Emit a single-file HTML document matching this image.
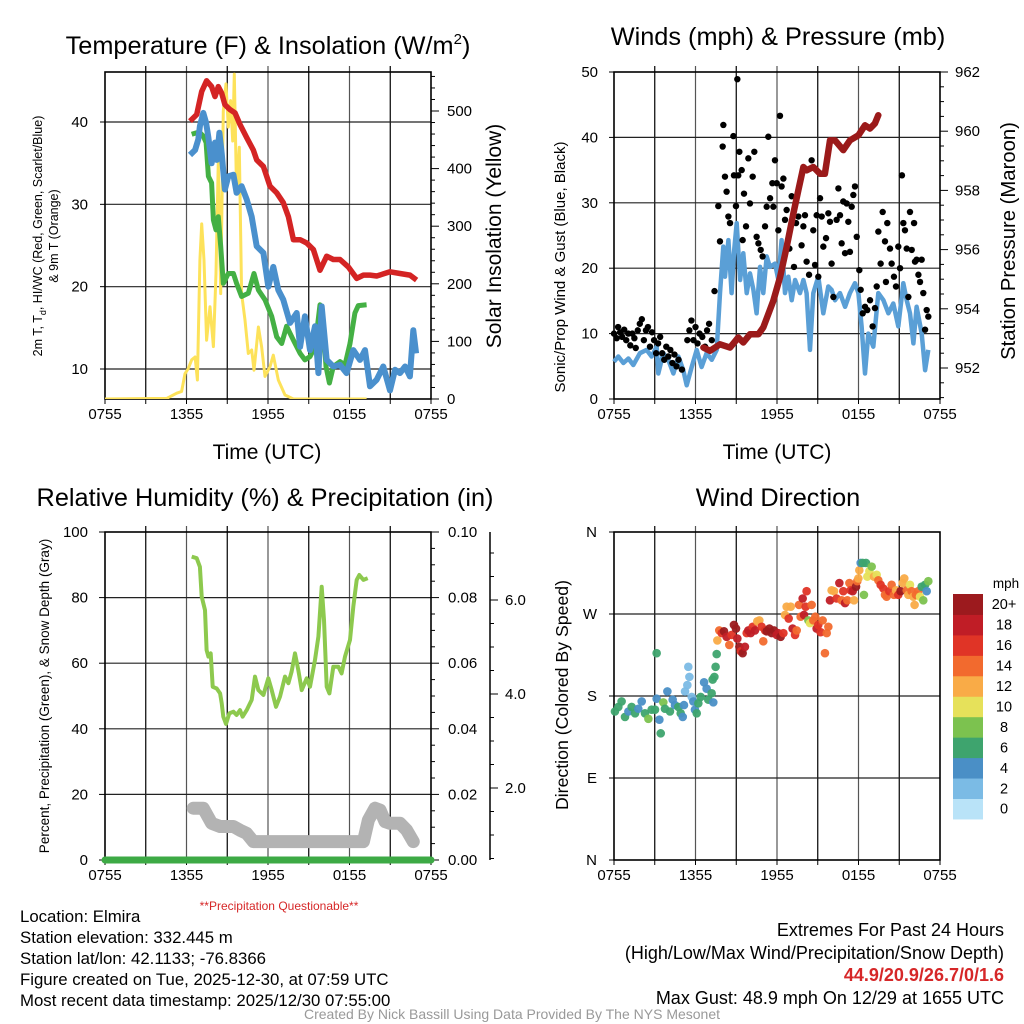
<!DOCTYPE html>
<html><head><meta charset="utf-8"><style>
html,body{margin:0;padding:0;background:#fff;}
svg{display:block;font-family:"Liberation Sans",sans-serif;}
</style></head><body>
<svg id="root" width="1024" height="1024" viewBox="0 0 1024 1024" xmlns="http://www.w3.org/2000/svg">
<g id="texts">
<text x="268" y="54" font-size="25.3" text-anchor="middle">Temperature (F) &amp; Insolation (W/m<tspan dy="-10" font-size="15">2</tspan><tspan dy="10">)</tspan></text>
<text x="778" y="45" font-size="25.3" text-anchor="middle">Winds (mph) &amp; Pressure (mb)</text>
<text x="265" y="506" font-size="25.3" text-anchor="middle">Relative Humidity (%) &amp; Precipitation (in)</text>
<text x="778" y="506" font-size="25.3" text-anchor="middle">Wind Direction</text>
<text x="267" y="459" font-size="21" text-anchor="middle">Time (UTC)</text>
<text x="777" y="459" font-size="21" text-anchor="middle">Time (UTC)</text>
<text transform="translate(42,236) rotate(-90)" font-size="12.5" text-anchor="middle">2m T, T<tspan dy="4" font-size="9">d</tspan><tspan dy="-4">, HI/WC (Red, Green, Scarlet/Blue)</tspan></text>
<text transform="translate(58,236) rotate(-90)" font-size="12.5" text-anchor="middle">&amp; 9m T (Orange)</text>
<text transform="translate(501,236) rotate(-90)" font-size="21" text-anchor="middle">Solar Insolation (Yellow)</text>
<text transform="translate(565,267) rotate(-90)" font-size="15" text-anchor="middle">Sonic/Prop Wind &amp; Gust (Blue, Black)</text>
<text transform="translate(1015,241) rotate(-90)" font-size="20.3" text-anchor="middle">Station Pressure (Maroon)</text>
<text transform="translate(49,696) rotate(-90)" font-size="13.5" text-anchor="middle">Percent, Precipitation (Green), &amp; Snow Depth (Gray)</text>
<text transform="translate(568,695) rotate(-90)" font-size="17.7" text-anchor="middle">Direction (Colored By Speed)</text>
<text x="279" y="910" font-size="12" fill="#d62728" text-anchor="middle">**Precipitation Questionable**</text>
<g font-size="16.8">
<text x="20" y="922">Location: Elmira</text>
<text x="20" y="943">Station elevation: 332.445 m</text>
<text x="20" y="964">Station lat/lon: 42.1133; -76.8366</text>
<text x="20" y="985">Figure created on Tue, 2025-12-30, at 07:59 UTC</text>
<text x="20" y="1006">Most recent data timestamp: 2025/12/30 07:55:00</text>
</g>
<g font-size="18" text-anchor="end">
<text x="1004" y="936">Extremes For Past 24 Hours</text>
<text x="1004" y="959">(High/Low/Max Wind/Precipitation/Snow Depth)</text>
<text x="1004" y="981" font-weight="bold" fill="#d62728">44.9/20.9/26.7/0/1.6</text>
<text x="1004" y="1004">Max Gust: 48.9 mph On 12/29 at 1655 UTC</text>
</g>
<text x="512" y="1019" font-size="14" fill="#999" text-anchor="middle">Created By Nick Bassill Using Data Provided By The NYS Mesonet</text>
</g>
</svg>
<script>
// ---------- DATA (time in hours after 0755 UTC) ----------
const xTickLabels = ["0755","1355","1955","0155","0755"];
const tempTicks = [10,20,30,40];
const solarTicks = [0,100,200,300,400,500];
const windTicks = [0,10,20,30,40,50];
const presTicks = [952,954,956,958,960,962];
const rhTicks = [0,20,40,60,80,100];
const precipTicks = ["0.00","0.02","0.04","0.06","0.08","0.10"];
const snowTicks = [2,4,6];
const dirTickLabels = ["N","E","S","W","N"];
const speedBins = ["0","2","4","6","8","10","12","14","16","18","20+"];

const redT = [6.26,6.75,7.12,7.48,7.85,8.10,8.34,8.59,8.83,9.20,9.57,9.94,10.43,10.92,11.17,11.66,12.15,12.64,13.13,13.50,13.87,14.36,14.85,15.34,15.83,16.32,16.81,17.30,17.91,18.53,19.02,19.51,20.0,20.98,21.72,22.45,22.94];
const redV = [40.1,40.9,43.7,45.0,44.3,43.1,44.3,43.5,42.1,41.5,41.1,39.7,38.1,36.6,35.4,34.6,32.2,31.4,30.2,28.5,25.7,25.7,25.3,24.5,22.0,23.7,23.3,23.3,22.4,21.0,21.4,21.4,21.3,21.8,21.6,21.4,20.8];
const blueT = [6.26,6.63,6.87,6.99,7.24,7.44,7.61,7.85,8.10,8.22,8.42,8.59,8.83,9.08,9.45,9.69,10.06,10.43,10.80,11.17,11.66,12.02,12.39,12.76,13.13,13.62,14.11,14.36,14.72,15.09,15.46,15.71,15.95,16.32,16.81,17.30,17.79,18.28,18.77,19.14,19.51,20.0,20.49,20.98,21.35,21.72,22.09,22.45,22.70,22.90];
const blueV = [36.0,36.6,37.9,39.5,41.1,39.9,38.1,35.0,37.5,35.4,38.7,36.2,31.8,33.4,33.6,31.4,32.2,30.6,28.5,24.9,24.1,20.0,22.4,19.6,18.4,15.6,16.8,12.7,16.4,12.3,15.2,9.5,17.6,11.1,10.3,10.5,9.5,12.3,11.1,12.3,7.9,8.7,10.3,7.4,9.9,9.5,10.3,9.1,14.7,11.9];
const greenT = [6.38,6.75,6.99,7.24,7.44,7.61,7.85,7.98,8.17,8.34,8.52,8.71,9.08,9.45,9.69,10.06,10.55,10.97,11.29,11.78,12.27,12.64,13.01,13.37,13.87,14.36,14.72,15.09,15.46,15.83,16.07,16.27,16.52,16.81,17.30,17.67,18.04,18.40,18.65,19.26];
const greenV = [38.5,38.7,38.7,38.3,37.5,33.4,32.6,28.1,26.9,28.5,24.9,20.4,21.6,21.6,20.4,18.8,19.2,21.6,19.6,18.4,16.4,13.9,13.1,15.2,13.5,11.9,11.1,11.5,12.7,17.8,15.2,10.3,8.3,10.3,10.9,10.5,13.1,16.8,17.7,17.8];
const solarT = [0,4.54,5.28,5.64,5.89,6.13,6.38,6.63,6.80,6.99,7.12,7.29,7.48,7.73,7.98,8.17,8.34,8.52,8.71,8.91,9.08,9.25,9.40,9.52,9.69,9.89,10.06,10.31,10.55,10.80,10.97,11.29,11.53,11.78,12.15,12.39,12.76,13.25,13.87,19.26];
const solarV = [0,1,10,13,44,53,68,73,33,241,304,241,102,160,91,218,414,183,500,547,472,518,448,564,356,437,183,137,79,85,50,125,91,39,56,76,33,7,0,0];

const windT = [0,0.32,0.69,1.06,1.42,1.91,2.40,2.77,3.14,3.26,3.63,4.00,4.37,4.74,5.10,5.35,5.72,6.09,6.45,6.82,7.19,7.56,7.80,8.05,8.17,8.42,8.66,8.83,9.03,9.28,9.52,9.77,10.01,10.26,10.50,10.75,10.99,11.24,11.48,11.85,12.10,12.34,12.59,12.83,13.08,13.33,13.69,13.94,14.18,14.43,14.67,15.04,15.41,15.78,16.02,16.27,16.64,17.01,17.37,17.74,17.99,18.23,18.48,18.72,19.09,19.46,19.83,20.20,20.56,20.93,21.30,21.55,21.79,22.04,22.28,22.65,22.90,23.14];
const windV = [5.7,6.5,5.5,6.2,5.2,7.0,7.5,6.5,8.0,3.9,7.0,6.0,3.9,6.5,4.4,2.1,4.9,7.5,4.9,7.0,6.0,7.5,16.2,23.3,18.7,24.3,16.2,22.3,26.9,18.2,22.3,16.2,19.2,16.7,13.1,20.2,16.2,21.8,20.2,20.7,18.2,24.3,16.2,18.7,15.1,18.2,16.2,18.2,16.2,7.5,16.2,18.7,13.1,17.2,16.7,15.1,16.2,14.1,16.2,17.7,16.2,11.1,3.9,10.0,8.0,16.2,15.1,13.1,14.6,11.1,17.7,15.1,13.1,8.5,14.1,10.0,4.4,7.5];
const gustT = [0.0,0.2,0.3,0.45,0.6,0.75,0.9,1.05,1.2,1.35,1.5,1.6,1.75,1.9,2.05,2.2,2.35,2.5,2.65,2.8,2.95,3.1,3.25,3.4,3.55,3.7,3.85,4.0,4.15,4.3,4.45,4.6,4.75,5.0,5.4,5.55,5.7,5.85,6.0,6.15,6.3,6.5,6.7,6.85,7.0,7.2,7.4,7.68,7.80,8.05,8.0,8.17,8.29,8.42,8.54,8.79,8.83,8.98,9.08,9.15,9.23,9.40,9.47,9.57,9.72,9.89,10.01,10.21,10.33,10.50,10.63,10.80,10.94,11.12,11.24,11.36,11.49,11.66,11.73,11.85,11.98,12.1,12.22,12.34,12.47,12.59,12.71,12.91,13.08,13.25,13.40,13.57,13.81,13.94,14.06,14.18,14.36,14.55,14.67,14.80,14.92,15.04,15.17,15.29,15.41,15.61,15.78,15.90,16.02,16.15,16.39,16.52,16.64,16.76,16.88,17.01,17.13,17.25,17.37,17.50,17.62,17.74,17.87,18.06,18.16,18.31,18.48,18.65,18.85,19.04,19.21,19.34,19.46,19.63,19.78,19.95,20.02,20.12,20.32,20.44,20.61,20.76,20.93,21.06,21.20,21.30,21.42,21.55,21.67,21.79,21.92,22.09,22.16,22.28,22.41,22.53,22.65,22.77,22.90,23.02,23.14];
const gustV = [10.0,9.3,11.0,10.2,9.5,10.6,9.0,10.0,8.2,10.0,9.3,7.8,10.5,11.5,12.2,9.0,10.5,11.0,8.0,10.2,9.0,7.0,8.5,9.5,7.0,6.0,8.0,6.5,7.5,5.5,6.8,5.0,6.0,4.5,9.0,10.5,12.0,9.0,11.0,8.5,10.0,9.5,8.0,10.5,11.5,9.0,16.5,29.5,24.1,41.9,38.6,34.0,31.7,27.9,26.9,40.2,34.2,29.5,48.9,34.2,37.8,35.0,24.3,31.4,26.4,36.8,29.9,34.0,37.8,24.8,23.8,22.8,21.8,26.4,29.4,40.1,30.7,33.0,29.4,36.5,33.0,25.8,43.3,32.5,33.7,27.4,28.9,23.0,31.0,20.2,26.9,27.9,23.5,26.4,28.1,21.0,19.0,36.5,25.8,20.5,28.1,18.7,30.7,27.9,23.3,24.6,28.4,27.1,20.7,15.6,27.4,32.2,28.1,23.8,30.2,22.3,29.9,27.1,22.5,29.4,31.2,32.5,24.8,19.7,16.7,13.1,14.1,13.6,15.1,11.1,13.9,17.2,25.6,20.7,28.6,24.1,17.9,26.9,23.0,20.7,18.7,17.2,23.3,20.0,34.2,26.9,25.8,23.0,15.6,28.6,22.8,26.9,21.0,21.3,19.0,17.9,21.3,16.2,10.6,13.6,12.6];
const presT = [6.58,7.07,7.80,8.54,9.15,9.52,10.01,10.63,10.99,11.36,11.73,12.22,12.71,13.20,13.57,13.94,14.18,14.67,15.17,15.53,15.90,16.27,16.88,17.37,17.99,18.48,18.85,19.21,19.46];
const presV = [952.69,952.58,952.80,952.69,953.03,952.86,953.14,953.14,953.37,953.82,954.27,955.06,956.08,957.21,958.0,958.79,958.68,958.79,958.56,958.56,959.69,959.69,959.36,959.69,959.86,960.2,960.09,960.26,960.54];

const rhT = [6.38,6.75,6.99,7.12,7.36,7.48,7.61,7.78,7.93,8.22,8.47,8.59,8.71,8.91,9.15,9.45,9.69,9.94,10.13,10.43,10.80,11.04,11.29,11.66,12.02,12.27,12.59,12.88,13.25,13.50,13.74,13.99,14.23,14.48,14.85,15.09,15.46,15.71,15.95,16.12,16.32,16.52,16.81,17.18,17.42,17.67,18.04,18.28,18.53,18.72,19.02,19.34];
const rhV = [92.5,92.0,89.4,80.3,76.2,64.0,62.0,63.0,52.8,52.3,50.8,47.8,43.7,41.5,44.7,45.2,44.2,45.7,43.7,45.7,48.8,55.9,51.8,50.3,55.4,51.8,46.7,49.8,55.9,53.9,57.4,63.0,57.9,51.8,55.4,52.8,61.0,68.1,83.3,73.2,52.8,50.8,58.9,58.9,56.9,62.0,67.1,77.2,85.4,86.9,85.4,85.9];
const snowT = [6.5,7.24,7.85,8.47,9.45,9.94,10.43,10.92,13.37,19.02,19.39,19.88,20.25,20.61,20.98,21.72,22.21,22.70];
const snowV = [15.8,15.8,11.2,10.2,10.2,9.1,8.1,5.6,5.6,5.6,12.2,15.8,15.2,11.7,11.2,11.2,9.1,5.6];
const precipT = [0,24];
const precipV = [0,0];

const dirT = [0.07,0.32,0.56,0.81,1.06,1.30,1.55,1.79,2.04,2.28,2.53,2.77,3.02,3.14,3.14,3.34,3.44,3.63,3.75,3.93,4.12,4.32,4.49,4.74,4.91,5.06,5.15,5.23,5.40,5.47,5.55,5.72,5.84,5.96,6.09,6.21,6.38,6.63,6.82,6.94,7.19,7.31,7.26,7.39,7.48,7.56,7.61,7.75,7.93,8.10,8.29,8.49,8.66,8.83,8.98,9.08,9.23,9.33,9.47,9.64,9.77,9.89,10.06,10.21,10.38,10.55,10.70,10.87,10.99,11.12,11.24,11.44,11.61,11.78,11.98,12.10,12.27,12.47,12.59,12.71,12.86,13.01,13.15,13.33,13.45,13.62,13.74,13.89,13.99,14.11,14.18,14.31,14.43,14.55,14.67,14.82,14.92,15.04,15.21,15.36,15.53,15.66,15.78,15.90,16.02,16.20,16.39,16.59,16.76,16.88,17.01,17.18,17.33,17.42,17.57,17.67,17.82,17.91,17.99,18.06,18.16,18.31,18.40,18.55,18.65,18.80,18.97,19.14,19.34,19.46,19.63,19.83,19.95,20.07,20.27,20.44,20.61,20.76,20.93,21.10,21.25,21.37,21.55,21.67,21.79,21.91,22.04,22.13,22.23,22.40,22.53,22.65,22.77,22.90,23.02,23.14];
const dirV = [163,168,174,157,163,168,161,166,174,161,155,165,165,177,227,154,139,173,166,185,163,176,170,168,161,157,170,185,192,212,201,179,174,165,161,172,179,195,188,176,183,173,198,201,212,226,241,252,249,251,245,236,247,258,254,243,234,229,227,234,249,252,249,256,252,262,263,256,240,252,251,254,249,252,247,249,245,249,269,278,265,278,254,247,252,280,267,287,269,278,295,263,260,280,263,267,254,258,250,263,227,249,256,285,296,295,287,304,285,295,282,285,304,296,295,285,300,306,309,318,326,326,291,326,311,317,322,311,313,307,302,298,291,289,295,302,291,296,291,295,304,309,296,291,302,295,289,280,291,295,289,300,285,302,295,306];
const dirS = [6,6,6,6,4,6,6,4,4,6,8,6,6,4,6,4,6,8,6,4,6,4,4,6,6,4,4,2,2,2,2,2,4,4,6,6,6,4,4,6,6,4,6,6,6,6,12,14,16,20,18,14,16,20,20,18,20,16,20,18,16,18,18,16,18,12,12,16,14,16,20,20,20,20,18,18,20,16,12,12,16,12,18,16,14,14,14,18,18,16,16,8,10,14,14,14,18,16,16,14,14,14,14,18,12,12,16,18,14,16,18,14,14,16,18,12,20,14,12,12,4,6,8,6,10,10,8,12,10,14,16,16,14,14,16,14,14,12,16,20,12,12,14,12,10,14,12,12,14,14,10,6,8,6,4,8];
const speedColors = ["#b9e3f8","#7bbbe5","#4a8fc6","#3ea46e","#7cc24f","#e6e15a","#f9ab47","#f26a2e","#e03426","#c01d26","#9c1a1e"];

// ---------- helpers ----------
const NS="http://www.w3.org/2000/svg";
const root=document.getElementById('root');
function mk(tag,attrs,parent){const e=document.createElementNS(NS,tag);for(const k in attrs)e.setAttribute(k,attrs[k]);(parent||root).appendChild(e);return e;}
function txt(parent,x,y,s,size,anchor){const t=mk('text',{x:x,y:y,'font-size':size,'text-anchor':anchor||'middle'},parent);t.textContent=s;return t;}
function lin(d0,d1,p0,p1){return v=>p0+(v-d0)*(p1-p0)/(d1-d0);}
function pathFrom(ts,vs,xf,yf){return ts.map((t,i)=>(i?'L':'M')+xf(t).toFixed(1)+','+yf(vs[i]).toFixed(1)).join(' ');}

function frame(g,L,T,R,B,xf,hLines){
  for(let h=3;h<24;h+=3){const l=mk('line',{x1:xf(h),x2:xf(h),y1:T-6,y2:B,stroke:(h%6==0)?'#555':'#000','stroke-width':1.2},g);
    
    }
  hLines.forEach(y=>{const l=mk('line',{x1:L,x2:R,y1:y,y2:y,stroke:'#222','stroke-width':1.2},g);
    
    });
  const r=mk('rect',{x:L,y:T,width:R-L,height:B-T,fill:'none',stroke:'#000','stroke-width':1.6},g);
  
  
  xTickLabels.forEach((s,i)=>{const x=xf(i*6);const t=txt(g,x,B+20,s,15);
    
    });
  for(let h=0;h<=24;h+=3){mk('line',{x1:xf(h),x2:xf(h),y1:B,y2:B+5,stroke:'#000'},g);}
}

// ---------- Panel 1: temperature ----------
(function(){
  const g=mk('g',{});
  
  
  const L=105,R=431,T=72,B=399;
  const xf=lin(0,24,L,R), yf=lin(10,40,369,122), sf=lin(0,500,399,111);
  frame(g,L,T,R,B,xf,tempTicks.map(yf));
  tempTicks.forEach(v=>{const t=txt(g,88,yf(v)+5,String(v),15,'end');
    
    
    mk('line',{x1:L-5,x2:L,y1:yf(v),y2:yf(v),stroke:'#000'},g);});
  for(let v=0;v<=560;v+=20){const y=sf(v);if(y<T)break;mk('line',{x1:R,x2:R+(v%100==0?8:4),y1:y,y2:y,stroke:'#000'},g);}
  solarTicks.forEach(v=>{const t=txt(g,447,sf(v)+5,String(v),15,'start');
    
    });
  const cp=mk('clipPath',{id:'c1'},g);mk('rect',{x:L,y:T-8,width:R-L,height:B-T+8},cp);
  const sg=mk('g',{'clip-path':'url(#c1)'},g);
  const ys=mk('path',{d:pathFrom(solarT,solarV,xf,sf),fill:'none',stroke:'#fde25a','stroke-width':3,'stroke-linejoin':'round'},sg);
  
  
  const gl=mk('path',{d:pathFrom(greenT,greenV,xf,yf),fill:'none',stroke:'#44b044','stroke-width':5,'stroke-linejoin':'round'},sg);
  
  
  const bl=mk('path',{d:pathFrom(blueT,blueV,xf,yf),fill:'none',stroke:'#4a90cd','stroke-width':6,'stroke-linejoin':'round'},sg);
  
  
  const rl=mk('path',{d:pathFrom(redT,redV,xf,yf),fill:'none',stroke:'#d42424','stroke-width':5.5,'stroke-linejoin':'round'},sg);
  
  
})();

// ---------- Panel 2: winds ----------
(function(){
  const g=mk('g',{});
  
  
  const L=614,R=940,T=72,B=399;
  const xf=lin(0,24,L,R), yf=lin(0,50,399,72), pf=lin(952,962,368,72);
  frame(g,L,T,R,B,xf,windTicks.slice(1,5).map(yf));
  windTicks.forEach(v=>{const t=txt(g,598,yf(v)+5,String(v),15,'end');
    
    
    mk('line',{x1:L-5,x2:L,y1:yf(v),y2:yf(v),stroke:'#000'},g);});
  for(let v=951;v<=962;v+=0.5){const y=pf(v);if(y>B)continue;mk('line',{x1:R,x2:R+(v%2==0?8:4),y1:y,y2:y,stroke:'#000'},g);}
  presTicks.forEach(v=>{const t=txt(g,955,pf(v)+5,String(v),15,'start');
    
    });
  const wl=mk('path',{d:pathFrom(windT,windV,xf,yf),fill:'none',stroke:'#5a9fd6','stroke-width':4.5,'stroke-linejoin':'round'},g);
  
  
  gustT.forEach((t,i)=>{const c=mk('circle',{cx:xf(t),cy:yf(gustV[i]),r:3.2,fill:'#000'},g);
    
    });
  const pl=mk('path',{d:pathFrom(presT,presV,xf,pf),fill:'none',stroke:'#9b1a1a','stroke-width':6.5,'stroke-linejoin':'round','stroke-linecap':'round'},g);
  
  
})();

// ---------- Panel 3: RH ----------
(function(){
  const g=mk('g',{});
  
  
  const L=105,R=431,T=532,B=860;
  const xf=lin(0,24,L,R), yf=lin(0,100,860,532);
  frame(g,L,T,R,B,xf,rhTicks.slice(1,5).map(yf));
  rhTicks.forEach(v=>{const t=txt(g,88,yf(v)+5,String(v),15,'end');
    
    
    mk('line',{x1:L-6,x2:L,y1:yf(v),y2:yf(v),stroke:'#000'},g);});
  for(let v=0;v<=100;v+=5){mk('line',{x1:R,x2:R+(v%20==0?8:4),y1:yf(v),y2:yf(v),stroke:'#000'},g);}
  precipTicks.forEach((s,i)=>{const t=txt(g,448,yf(i*20)+5,s,15,'start');
    
    });
  const sa=mk('line',{x1:490,x2:490,y1:T,y2:B,stroke:'#000','stroke-width':1.5},g);
  
  
  const snowY=lin(0,2,882,788);
  for(let v=0.5;v<=7;v+=0.5){const y=snowY(v);if(y<T)break;mk('line',{x1:490,x2:490+(v%2==0?8:4),y1:y,y2:y,stroke:'#000'},g);}
  snowTicks.forEach(v=>{const t=txt(g,505,snowY(v)+5,v.toFixed(1),15,'start');
    
    });
  const sl=mk('path',{d:pathFrom(snowT,snowV,xf,yf),fill:'none',stroke:'#b3b3b3','stroke-width':13,'stroke-linejoin':'round','stroke-linecap':'round'},g);
  
  
  const rl=mk('path',{d:pathFrom(rhT,rhV,xf,yf),fill:'none',stroke:'#8dc94e','stroke-width':4,'stroke-linejoin':'round'},g);
  
  
  const pr=mk('path',{d:pathFrom(precipT,precipV,xf,yf),fill:'none',stroke:'#3daa45','stroke-width':7,'stroke-linecap':'round'},g);
  
  
})();

// ---------- Panel 4: direction ----------
(function(){
  const g=mk('g',{});
  
  
  const L=614,R=940,T=532,B=860;
  const xf=lin(0,24,L,R), yf=lin(0,360,860,532);
  frame(g,L,T,R,B,xf,[90,180,270].map(yf));
  dirTickLabels.forEach((s,i)=>{const t=txt(g,597,yf(i*90)+5,s,15,'end');
    
    
    mk('line',{x1:L-5,x2:L,y1:yf(i*90),y2:yf(i*90),stroke:'#000'},g);});
  dirT.forEach((t,i)=>{const bin=Math.min(10,Math.max(0,Math.round(dirS[i]/2)));
    const c=mk('circle',{cx:xf(t),cy:yf(dirV[i]),r:4.3,fill:speedColors[bin],'fill-opacity':0.95},g);
    
    });
  const cb=mk('g',{},g);
  
  
  const bh=20.45;
  speedBins.forEach((s,i)=>{const y=594+(10-i)*bh;
    const r=mk('rect',{x:953,y:y,width:30,height:bh+0.5,fill:speedColors[i]},cb);
    
    
    const t=txt(cb,1004,y+bh/2+5,s,14.5,'middle');
    
    });
  const mt=txt(cb,1006,588,'mph',13.5,'middle');
  
  
})();
</script>
</body></html>
